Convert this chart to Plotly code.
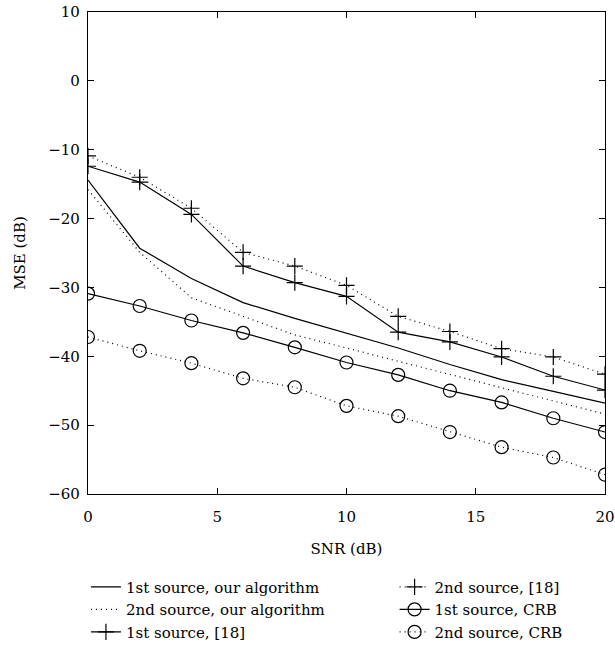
import plotly.graph_objects as go

snr = [0, 2, 4, 6, 8, 10, 12, 14, 16, 18, 20]
our_1st = [-14.4, -24.3, -28.7, -32.2, -34.5, -36.7, -38.8, -41.2, -43.4, -45.1, -46.8]
our_2nd = [-15.8, -24.9, -31.5, -34.2, -36.9, -38.8, -40.7, -42.7, -44.6, -46.5, -48.4]
ref_1st = [-12.4, -14.7, -19.4, -26.9, -29.3, -31.3, -36.5, -37.9, -40.1, -42.9, -44.9]
ref_2nd = [-10.9, -14.0, -18.5, -24.9, -26.9, -29.7, -34.2, -36.4, -38.9, -40.1, -42.6]
crb_1st = [-30.9, -32.7, -34.8, -36.6, -38.7, -40.9, -42.7, -45.0, -46.7, -49.0, -51.0]
crb_2nd = [-37.2, -39.2, -41.0, -43.2, -44.5, -47.2, -48.7, -51.0, -53.2, -54.7, -57.2]

names = ["1st source, our algorithm", "2nd source, our algorithm", "1st source, [18]",
         "2nd source, [18]", "1st source, CRB", "2nd source, CRB"]
x_ticks = [0, 5, 10, 15, 20]
y_ticks = [10, 0, -10, -20, -30, -40, -50, -60]

FONT = "DejaVu Serif, Liberation Serif, serif"
FS = 15
DOT = "1px,4px"
LW = 1.2

fig = go.Figure()

def add(y, name, dash, symbol, legend, msize):
    mode = "lines" if symbol is None else "lines+markers"
    marker = dict(symbol=symbol or "circle", size=msize, color="black",
                  line=dict(color="black", width=LW))
    fig.add_trace(go.Scatter(x=snr, y=y, name=name, mode=mode,
                             line=dict(color="black", width=LW, dash=dash),
                             marker=marker, legend=legend))

add(our_1st, names[0], "solid", None, "legend", 0)
add(our_2nd, names[1], DOT, None, "legend", 0)
add(ref_1st, names[2], "solid", "cross-thin-open", "legend", 11.5)
add(ref_2nd, names[3], DOT, "cross-thin-open", "legend2", 11.5)
add(crb_1st, names[4], "solid", "circle-open", "legend2", 13)
add(crb_2nd, names[5], DOT, "circle-open", "legend2", 13)

axis_common = dict(showline=True, linecolor="black", linewidth=1.2, mirror="ticks",
                   ticks="inside", ticklen=6, tickwidth=1, tickcolor="black",
                   showgrid=False, zeroline=False, ticklabeloverflow="allow",
                   tickfont=dict(family=FONT, size=FS, color="black"))

fig.update_xaxes(range=[0, 20], tickvals=x_ticks, ticklabelstandoff=9,
                 title=dict(text="SNR (dB)", font=dict(family=FONT, size=FS, color="black"), standoff=18),
                 **axis_common)
fig.update_yaxes(range=[-60, 10], tickvals=y_ticks, ticklabelstandoff=4,
                 title=dict(text="MSE (dB)", font=dict(family=FONT, size=FS, color="black"), standoff=18),
                 **axis_common)

leg_common = dict(font=dict(family=FONT, size=FS, color="black"), bgcolor="rgba(0,0,0,0)",
                  orientation="v", yanchor="top", xanchor="left", tracegroupgap=0,
                  itemsizing="trace")

fig.update_layout(
    width=615, height=658,
    margin=dict(l=88, r=10, t=12, b=164, pad=0, autoexpand=False),
    plot_bgcolor="white", paper_bgcolor="white",
    font=dict(family=FONT, size=FS, color="black"),
    showlegend=True,
    legend=dict(x=-0.004, y=-0.159, **leg_common),
    legend2=dict(x=0.593, y=-0.159, **leg_common),
)

fig.write_html("out.html", config={"displayModeBar": False},
               post_script="document.body.style.margin='0';document.body.style.overflow='hidden';")
